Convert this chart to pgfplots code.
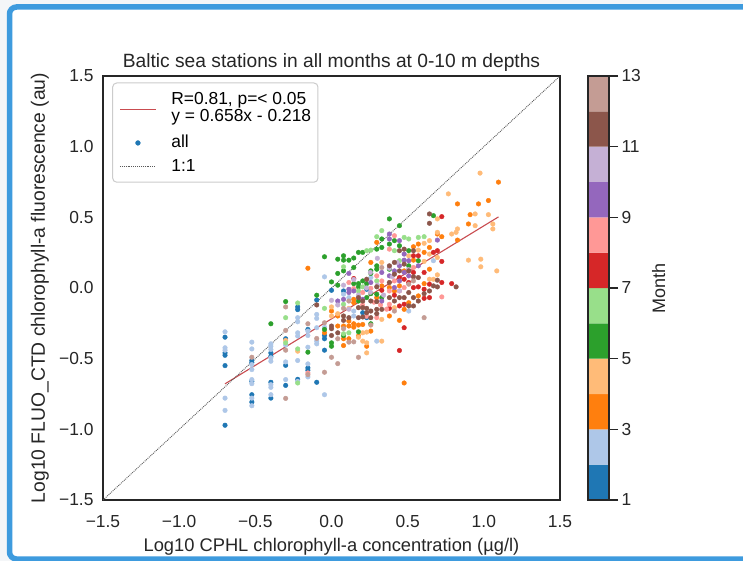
\documentclass[border=0pt]{standalone}
\usepackage{pgfplots}
\pgfplotsset{compat=1.18}
\usepackage{pgfplotstable}
\usepackage{fontspec}
\setmainfont{Liberation Sans}

% tab20, first twelve entries: one colour per month
\definecolor{m1}{HTML}{1F77B4}
\definecolor{m2}{HTML}{AEC7E8}
\definecolor{m3}{HTML}{FF7F0E}
\definecolor{m4}{HTML}{FFBB78}
\definecolor{m5}{HTML}{2CA02C}
\definecolor{m6}{HTML}{98DF8A}
\definecolor{m7}{HTML}{D62728}
\definecolor{m8}{HTML}{FF9896}
\definecolor{m9}{HTML}{9467BD}
\definecolor{m10}{HTML}{C5B0D5}
\definecolor{m11}{HTML}{8C564B}
\definecolor{m12}{HTML}{C49C94}
\definecolor{ink}{HTML}{262626}
\definecolor{regline}{RGB}{201,76,80}
\definecolor{cellblue}{RGB}{62,155,222}
\definecolor{pagegray}{RGB}{244,246,248}

\newcommand\fs{\fontsize{17.4}{20.9}\selectfont}

% log10 CPHL, log10 FLUO_CTD, month
\pgfplotstableread{
x y m
-0.699 -0.348 1
-0.699 -0.459 1
-0.699 -0.476 1
-0.699 -0.549 1
-0.699 -0.971 1
-0.523 -0.513 1
-0.523 -0.528 1
-0.523 -0.660 1
-0.523 -0.755 1
-0.523 -0.807 1
-0.398 -0.459 1
-0.398 -0.483 1
-0.398 -0.667 1
-0.398 -0.779 1
-0.301 -0.359 1
-0.301 -0.547 1
-0.301 -0.689 1
-0.222 -0.134 1
-0.222 -0.153 1
-0.222 -0.646 1
-0.155 -0.293 1
-0.155 -0.565 1
-0.155 -0.582 1
-0.097 -0.085 1
-0.097 -0.667 1
-0.046 -0.336 1
-0.046 -0.359 1
-0.046 -0.440 1
0.000 -0.016 1
0.079 -0.021 1
0.205 -0.175 1
0.231 -0.009 1
0.231 -0.210 1
-0.699 -0.310 2
-0.699 -0.423 2
-0.699 -0.440 2
-0.699 -0.779 2
-0.699 -0.866 2
-0.523 -0.383 2
-0.523 -0.431 2
-0.523 -0.542 2
-0.523 -0.577 2
-0.523 -0.648 2
-0.523 -0.677 2
-0.523 -0.779 2
-0.523 -0.833 2
-0.398 -0.395 2
-0.398 -0.412 2
-0.398 -0.435 2
-0.398 -0.494 2
-0.398 -0.518 2
-0.398 -0.684 2
-0.398 -0.703 2
-0.398 -0.755 2
-0.301 -0.404 2
-0.301 -0.523 2
-0.301 -0.648 2
-0.222 -0.210 2
-0.222 -0.239 2
-0.222 -0.317 2
-0.222 -0.340 2
-0.222 -0.513 2
-0.222 -0.660 2
-0.155 -0.305 2
-0.155 -0.336 2
-0.155 -0.419 2
-0.155 -0.537 2
-0.155 -0.629 2
-0.097 -0.187 2
-0.097 -0.215 2
-0.097 -0.281 2
-0.097 -0.376 2
-0.097 -0.395 2
-0.046 0.079 2
-0.046 -0.277 2
-0.046 -0.755 2
0.079 -0.044 2
0.114 -0.068 2
0.146 -0.163 2
0.146 -0.198 2
0.258 0.074 2
0.297 -0.376 2
0.507 -0.163 2
0.669 0.193 2
-0.155 0.140 3
-0.046 -0.317 3
0.000 -0.163 3
0.041 -0.198 3
0.041 -0.269 3
0.079 -0.269 3
0.079 -0.359 3
0.079 -0.407 3
0.114 -0.234 3
0.114 -0.269 3
0.114 -0.359 3
0.146 -0.080 3
0.146 -0.104 3
0.146 -0.253 3
0.146 -0.277 3
0.177 -0.262 3
0.177 -0.340 3
0.205 -0.258 3
0.231 -0.412 3
0.258 0.181 3
0.258 -0.305 3
0.297 0.323 3
0.297 -0.068 3
0.330 0.015 3
0.380 0.003 3
0.380 -0.198 3
0.413 -0.021 3
0.446 0.015 3
0.446 -0.229 3
0.477 0.121 3
0.477 -0.151 3
0.477 -0.672 3
0.507 -0.104 3
0.538 0.292 3
0.538 0.197 3
0.570 0.311 3
0.570 -0.056 3
0.608 0.252 3
0.608 0.031 3
0.643 0.287 3
0.643 0.133 3
0.695 0.382 3
0.724 0.363 3
0.827 0.595 3
0.827 0.339 3
0.899 0.453 3
0.910 0.519 3
0.965 0.595 3
1.030 0.619 3
1.096 0.749 3
-0.301 -0.371 4
-0.222 -0.447 4
0.000 -0.134 4
0.000 -0.198 4
0.041 -0.182 4
0.114 -0.144 4
0.177 -0.348 4
0.205 -0.317 4
0.205 -0.376 4
0.231 -0.312 4
0.231 -0.388 4
0.231 -0.459 4
0.330 0.181 4
0.330 -0.222 4
0.330 -0.376 4
0.413 -0.139 4
0.507 0.228 4
0.570 0.268 4
0.608 0.316 4
0.608 0.188 4
0.643 0.335 4
0.643 0.240 4
0.643 0.062 4
0.669 0.062 4
0.695 0.489 4
0.695 0.394 4
0.695 0.216 4
0.695 0.093 4
0.789 0.382 4
0.818 0.394 4
0.827 0.418 4
0.899 0.197 4
0.943 0.524 4
0.943 0.441 4
0.980 0.204 4
0.980 0.150 4
1.030 0.519 4
1.059 0.453 4
1.059 0.418 4
1.085 0.121 4
0.975 0.813 4
0.767 0.666 4
-0.398 -0.253 5
-0.301 -0.096 5
-0.155 -0.454 5
-0.097 -0.051 5
-0.046 0.221 5
-0.046 -0.293 5
0.000 0.043 5
0.000 -0.388 5
0.000 -0.412 5
0.041 0.204 5
0.041 0.103 5
0.041 0.020 5
0.079 0.228 5
0.079 0.197 5
0.079 0.121 5
0.079 -0.336 5
0.114 0.197 5
0.146 0.212 5
0.146 0.145 5
0.146 0.031 5
0.177 0.252 5
0.177 0.031 5
0.177 0.008 5
0.177 -0.092 5
0.177 -0.310 5
0.205 0.252 5
0.205 0.050 5
0.231 0.031 5
0.231 -0.068 5
0.258 0.121 5
0.258 0.103 5
0.258 -0.040 5
0.258 -0.253 5
0.297 0.275 5
0.297 0.157 5
0.297 0.133 5
0.297 -0.044 5
0.330 0.347 5
0.330 0.287 5
0.330 -0.068 5
0.380 0.489 5
0.380 0.311 5
0.380 0.133 5
0.413 0.335 5
0.446 0.441 5
0.446 0.299 5
0.507 0.264 5
0.507 0.157 5
0.570 0.193 5
0.669 0.512 5
-0.301 -0.210 6
-0.301 -0.388 6
-0.222 -0.106 6
-0.222 -0.431 6
-0.222 -0.672 6
-0.046 -0.144 6
0.079 0.150 6
0.079 -0.115 6
0.079 -0.324 6
0.114 -0.317 6
0.177 -0.021 6
0.205 0.008 6
0.231 0.264 6
0.258 0.268 6
0.297 0.363 6
0.297 0.050 6
0.330 0.406 6
0.413 0.264 6
0.446 0.193 6
0.477 0.358 6
0.507 0.347 6
0.570 0.358 6
0.608 0.363 6
0.146 0.067 7
0.330 -0.016 7
0.380 -0.144 7
0.413 -0.051 7
0.446 0.074 7
0.446 -0.127 7
0.446 -0.442 7
0.477 0.062 7
0.477 -0.115 7
0.477 -0.281 7
0.507 0.039 7
0.538 0.228 7
0.538 0.110 7
0.538 0.003 7
0.570 0.228 7
0.570 0.008 7
0.608 0.110 7
0.608 -0.009 7
0.608 -0.073 7
0.643 0.027 7
0.643 -0.068 7
0.669 0.252 7
0.695 0.264 7
0.724 0.505 7
0.724 0.188 7
0.724 0.039 7
0.789 0.031 7
-0.155 -0.601 8
0.114 0.039 8
0.146 -0.004 8
0.205 -0.032 8
0.258 -0.002 8
0.297 0.086 8
0.297 -0.210 8
0.330 0.050 8
0.380 0.275 8
0.380 -0.021 8
0.380 -0.115 8
0.413 0.370 8
0.413 0.050 8
0.446 -0.021 8
0.477 0.003 8
0.538 0.145 8
0.724 -0.063 8
0.279 -0.100 8
0.204 -0.120 8
0.322 -0.120 8
0.362 -0.150 8
0.230 -0.200 8
0.041 -0.092 9
0.079 -0.080 9
0.114 0.103 9
0.114 -0.009 9
0.114 -0.032 9
0.146 -0.021 9
0.205 -0.080 9
0.258 0.039 9
0.330 0.110 9
0.330 -0.092 9
0.380 0.382 9
0.380 0.347 9
0.380 0.086 9
0.413 0.121 9
0.413 0.003 9
0.446 0.335 9
0.446 0.157 9
0.446 0.050 9
0.477 0.240 9
0.477 0.197 9
0.477 0.110 9
0.507 0.193 9
0.507 0.086 9
0.570 0.157 9
0.695 0.339 9
0.000 -0.087 10
0.041 -0.120 10
0.177 -0.050 10
0.230 0.000 10
0.255 -0.030 10
0.301 0.020 10
0.342 -0.050 10
0.398 0.080 10
0.431 0.180 10
0.380 0.140 10
0.447 -0.020 10
0.505 0.130 10
0.255 0.110 10
0.146 0.060 10
0.114 -0.150 10
0.079 0.020 10
0.301 0.210 10
-0.097 -0.120 11
0.000 -0.269 11
0.000 -0.288 11
0.000 -0.336 11
0.041 -0.317 11
0.079 -0.198 11
0.079 -0.229 11
0.114 -0.210 11
0.177 -0.068 11
0.177 -0.139 11
0.177 -0.210 11
0.205 -0.092 11
0.205 -0.139 11
0.205 -0.205 11
0.231 0.062 11
0.231 -0.144 11
0.231 -0.175 11
0.258 -0.092 11
0.258 -0.163 11
0.258 -0.210 11
0.297 0.008 11
0.297 -0.096 11
0.297 -0.151 11
0.297 -0.182 11
0.330 -0.151 11
0.380 0.157 11
0.380 0.039 11
0.380 -0.068 11
0.413 0.181 11
0.413 0.098 11
0.413 -0.092 11
0.446 0.264 11
0.446 0.121 11
0.446 -0.068 11
0.477 0.275 11
0.477 0.169 11
0.477 -0.068 11
0.507 0.121 11
0.507 -0.032 11
0.507 -0.127 11
0.538 0.264 11
0.538 0.079 11
0.538 -0.068 11
0.538 -0.127 11
0.570 0.074 11
0.570 -0.092 11
0.608 -0.040 11
0.643 0.524 11
0.643 0.458 11
0.643 -0.021 11
0.669 0.015 11
0.695 0.055 11
0.695 0.008 11
0.818 0.008 11
-0.523 -0.490 12
-0.301 -0.134 12
-0.301 -0.300 12
-0.301 -0.440 12
-0.301 -0.781 12
-0.155 -0.253 12
-0.155 -0.613 12
-0.097 -0.357 12
-0.046 -0.246 12
-0.046 -0.596 12
0.000 -0.490 12
0.041 -0.359 12
0.041 -0.535 12
0.079 -0.144 12
0.079 -0.288 12
0.114 -0.092 12
0.114 -0.383 12
0.146 -0.381 12
0.177 -0.490 12
0.258 -0.262 12
0.330 0.145 12
0.413 -0.163 12
0.507 0.027 12
0.538 0.050 12
0.608 -0.210 12
}\chl

\begin{document}
\begin{tikzpicture}
\useasboundingbox (0pt,0pt) rectangle (743pt,-561pt);
\fill[pagegray] (0pt,0pt) rectangle (743pt,-561pt);
\draw[cellblue, line width=5.5pt, fill=white, rounded corners=7pt]
  (9.5pt,-7pt) rectangle (780pt,-559pt);

\begin{axis}[
  at={(103pt,-500pt)}, anchor=south west,
  scale only axis, width=457pt, height=424pt,
  xmin=-1.5, xmax=1.5, ymin=-1.5, ymax=1.5,
  axis line style={ink, line width=1.4pt},
  major tick length=0pt,
  xtick={-1.5,-1,-0.5,0,0.5,1,1.5},
  ytick={-1.5,-1,-0.5,0,0.5,1,1.5},
  xticklabels={−1.5,−1.0,−0.5,0.0,0.5,1.0,1.5},
  yticklabels={−1.5,−1.0,−0.5,0.0,0.5,1.0,1.5},
  ticklabel style={font=\fs, text=ink},
  xticklabel style={anchor=center, yshift=-22pt},
  yticklabel style={anchor=east, xshift=-6pt},
  xlabel={Log10 CPHL chlorophyll-a concentration (µg/l)},
  ylabel={Log10 FLUO\_CTD chlorophyll-a fluorescence (au)},
  title={Baltic sea stations in all months at 0-10 m depths},
  xlabel style={font=\fontsize{18.3}{22}\selectfont, text=ink,
    at={(axis description cs:0.5,-0.111)}, anchor=center},
  ylabel style={font=\fontsize{19.3}{23}\selectfont, text=ink,
    at={(axis description cs:-0.138,0.5)}, anchor=center},
  title style={font=\fontsize{19.2}{23}\selectfont, text=ink,
    at={(axis description cs:0.5,1.0175)}, anchor=center},
  legend image code/.code={%
    \draw[mark repeat=2, mark phase=2, #1]
      plot coordinates {(0pt,0pt) (18pt,0pt) (36pt,0pt)};},
  legend style={
    name=lgd,
    at={(axis description cs:0.0212,0.9835)}, anchor=north west,
    draw=none, fill=white,
    font=\fs,
    inner xsep=6.6pt, inner ysep=9pt,
    row sep=7.8pt, column sep=15pt,
    nodes={inner sep=0pt},
  },
  legend cell align=left,
]
% fit-line sample, drawn as a thin filled bar
\addlegendimage{legend image code/.code={\fill[fill=regline, draw=none] (0pt,-0.6pt) rectangle (36pt,0.6pt);}}
\addlegendentry[text height=29.3pt, text depth=5.4pt]{\vbox{\baselineskip=16.6pt\lineskiplimit=-30pt\lineskip=0pt
  \hbox{R=0.81, p=< 0.05}\hbox{y = 0.658x - 0.218}}}
\addlegendimage{only marks, mark=*, mark size=2.4pt, mark options={draw=m1, fill=m1}}
\addlegendentry[text height=12.5pt, text depth=4pt]{all}
\addlegendimage{draw=black!65, line width=0.9pt, densely dotted}
\addlegendentry[text height=12.5pt, text depth=1.5pt]{1:1}

% stations, coloured by month
\addplot[scatter, only marks, mark=*, mark size=2.3pt,
  scatter src=explicit symbolic,
  scatter/classes={
    1={draw=m1,fill=m1}, 2={draw=m2,fill=m2}, 3={draw=m3,fill=m3},
    4={draw=m4,fill=m4}, 5={draw=m5,fill=m5}, 6={draw=m6,fill=m6},
    7={draw=m7,fill=m7}, 8={draw=m8,fill=m8}, 9={draw=m9,fill=m9},
    10={draw=m10,fill=m10}, 11={draw=m11,fill=m11}, 12={draw=m12,fill=m12}},
  forget plot] table[x=x, y=y, meta=m] {\chl};

% least-squares fit y = 0.658x - 0.218 over the data range
\addplot[draw=regline, line width=1.1pt, forget plot] coordinates {(-0.699,-0.678) (1.096,0.503)};
% 1:1 reference
\addplot[draw=black!65, line width=0.9pt, densely dotted, forget plot] coordinates {(-1.5,-1.5) (1.5,1.5)};
\end{axis}
% legend frame
\draw[black!20, line width=1pt, rounded corners=4pt] (lgd.south west) rectangle (lgd.north east);

% discrete month colour bar
\begin{axis}[
  at={(588pt,-500pt)}, anchor=south west,
  scale only axis, width=21pt, height=424pt,
  xmin=0, xmax=1, ymin=1, ymax=13,
  xtick=\empty,
  ytick={1,3,5,7,9,11,13},
  yticklabels={1,3,5,7,9,11,13},
  ytick pos=right, yticklabel pos=right,
  tick align=outside, major tick length=9pt,
  tick style={ink, line width=1.3pt},
  axis line style={ink, line width=1.2pt},
  ticklabel style={font=\fs, text=ink},
  ylabel={Month},
  ylabel style={font=\fontsize{18}{22}\selectfont, text=ink,
    at={(axis description cs:3.37,0.5)}, anchor=center},
  axis on top,
]
\addplot[fill=m1,  draw=none] coordinates {(0,1)(1,1)(1,2)(0,2)(0,1)};
\addplot[fill=m2,  draw=none] coordinates {(0,2)(1,2)(1,3)(0,3)(0,2)};
\addplot[fill=m3,  draw=none] coordinates {(0,3)(1,3)(1,4)(0,4)(0,3)};
\addplot[fill=m4,  draw=none] coordinates {(0,4)(1,4)(1,5)(0,5)(0,4)};
\addplot[fill=m5,  draw=none] coordinates {(0,5)(1,5)(1,6)(0,6)(0,5)};
\addplot[fill=m6,  draw=none] coordinates {(0,6)(1,6)(1,7)(0,7)(0,6)};
\addplot[fill=m7,  draw=none] coordinates {(0,7)(1,7)(1,8)(0,8)(0,7)};
\addplot[fill=m8,  draw=none] coordinates {(0,8)(1,8)(1,9)(0,9)(0,8)};
\addplot[fill=m9,  draw=none] coordinates {(0,9)(1,9)(1,10)(0,10)(0,9)};
\addplot[fill=m10, draw=none] coordinates {(0,10)(1,10)(1,11)(0,11)(0,10)};
\addplot[fill=m11, draw=none] coordinates {(0,11)(1,11)(1,12)(0,12)(0,11)};
\addplot[fill=m12, draw=none] coordinates {(0,12)(1,12)(1,13)(0,13)(0,12)};
\end{axis}
\end{tikzpicture}
\end{document}
